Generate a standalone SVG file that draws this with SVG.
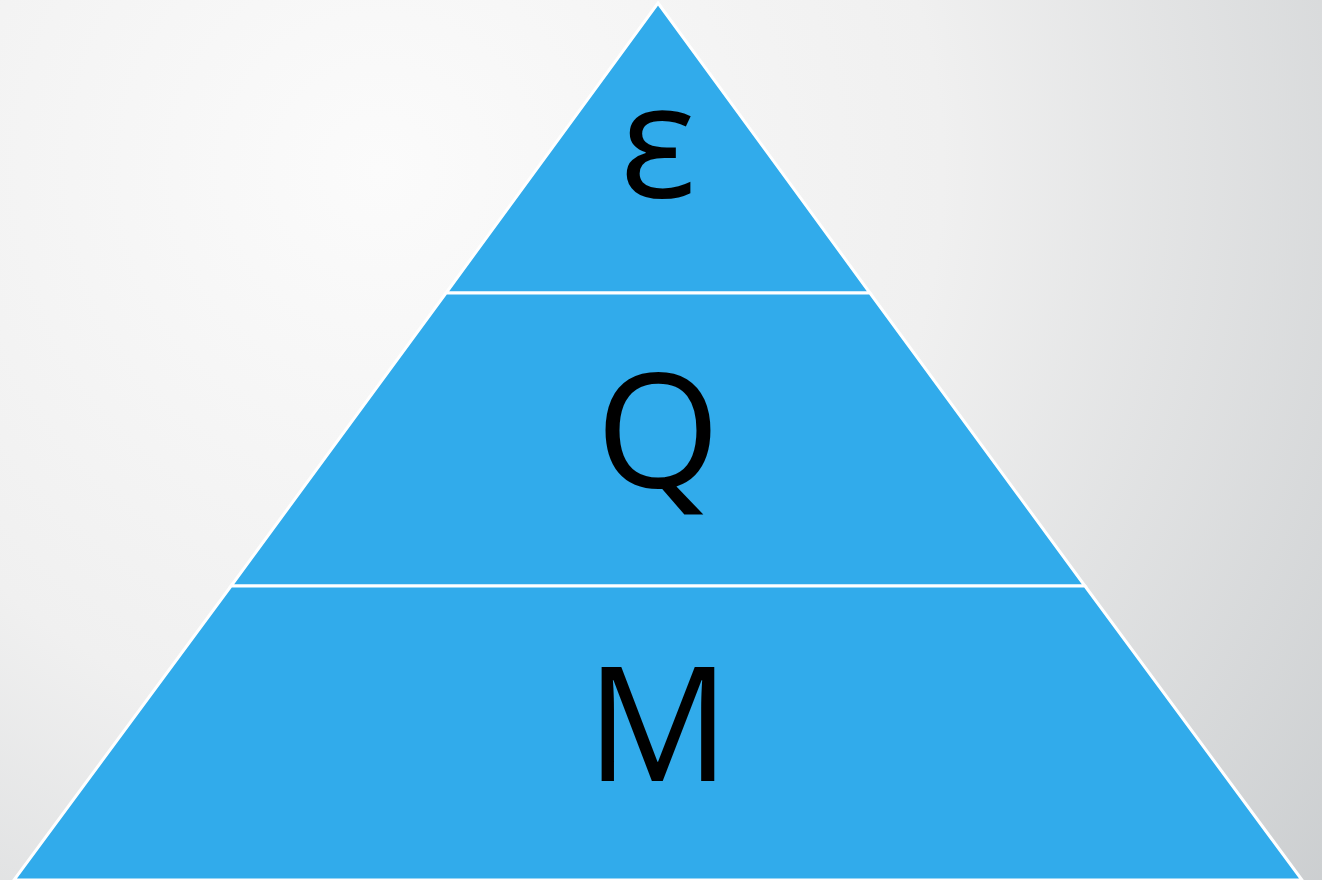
<svg xmlns="http://www.w3.org/2000/svg" width="1322" height="880" viewBox="0 0 1322 880">
<defs>
<radialGradient id="bg" cx="380" cy="170" r="1250" gradientUnits="userSpaceOnUse">
<stop offset="0" stop-color="#FBFBFB"/>
<stop offset="0.45" stop-color="#F0F0F0"/>
<stop offset="1" stop-color="#C8CBCD"/>
</radialGradient>
<style>
.tier{fill:#31ABEB;stroke:#FFFFFF;stroke-width:3;stroke-linejoin:miter}
.lbl{font-family:"Open Sans","Noto Sans",sans-serif;font-size:160px;fill:#000000;text-anchor:middle}
</style>
</defs>
<rect width="1322" height="880" fill="url(#bg)"/>
<g id="tier-top">
<polygon class="tier" points="658,3 870,293 446,293"/>
<text class="lbl" x="658" y="197">ε</text>
</g>
<g id="tier-middle">
<polygon class="tier" points="446,293 870,293 1085,586 231,586"/>
<text class="lbl" x="658" y="488">Q</text>
</g>
<g id="tier-bottom">
<polygon class="tier" points="231,586 1085,586 1302,880 14,880"/>
<text class="lbl" x="658" y="781">M</text>
</g>
<g id="connectors"/>
</svg>
